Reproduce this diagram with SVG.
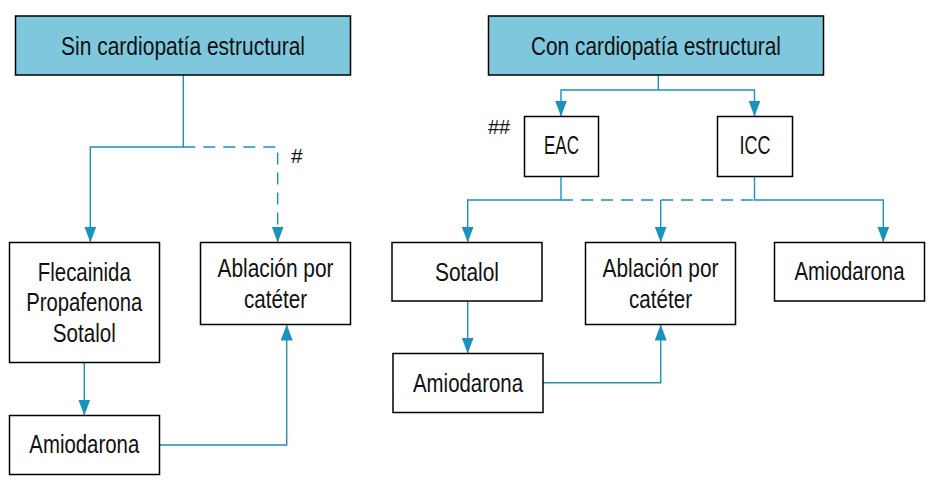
<svg xmlns="http://www.w3.org/2000/svg" width="943" height="501" viewBox="0 0 943 501">
<defs>
<style>
.box{fill:#ffffff;stroke:#000000;stroke-width:1.5}
.head{fill:#7fc7dd;stroke:#000000;stroke-width:1.5}
.t{font-family:"Liberation Sans",Arial,sans-serif;font-size:25px;fill:#111111;text-anchor:middle}
.m{font-family:"Liberation Sans",Arial,sans-serif;fill:#111111}
.c{fill:none;stroke:#1a93bb;stroke-width:1.4}
.d{stroke-dasharray:12 8}
</style>
<marker id="ah" viewBox="0 0 16 12" refX="16" refY="6" markerWidth="16" markerHeight="12" markerUnits="userSpaceOnUse" orient="auto">
<path d="M0 0 L16 6 L0 12 z" fill="#1a93bb"/>
</marker>
</defs>
<rect width="943" height="501" fill="#ffffff"/>
<g id="connectors">
<path class="c" d="M183.3 75 V147 H90.3 V242.5" marker-end="url(#ah)"/>
<path class="c d" d="M183.3 147 H277.7 V242.5" marker-end="url(#ah)"/>
<path class="c" d="M84.3 362.5 V415.5" marker-end="url(#ah)"/>
<path class="c" d="M159.5 445 H286.7 V324.5" marker-end="url(#ah)"/>
<path class="c" d="M658.3 75 V90"/>
<path class="c" d="M658.3 90 H561 V116.5" marker-end="url(#ah)"/>
<path class="c" d="M658.3 90 H754.5 V116.5" marker-end="url(#ah)"/>
<path class="c" d="M561 176.5 V200 H467.7 V242.5" marker-end="url(#ah)"/>
<path class="c" d="M754.5 176.5 V200 H883.3 V242.5" marker-end="url(#ah)"/>
<path class="c d" d="M561 200 H754.5"/>
<path class="c" d="M660.7 200 V242.5" marker-end="url(#ah)"/>
<path class="c" d="M467.7 301 V353.5" marker-end="url(#ah)"/>
<path class="c" d="M543 382.7 H660.7 V324.5" marker-end="url(#ah)"/>
</g>
<g id="sin">
<rect class="head" x="15.5" y="16" width="335" height="59"/>
<text class="t" x="183" y="55" textLength="244" lengthAdjust="spacingAndGlyphs">Sin cardiopatía estructural</text>
</g>
<g id="con">
<rect class="head" x="488.5" y="16" width="335" height="59"/>
<text class="t" x="656" y="55" textLength="250" lengthAdjust="spacingAndGlyphs">Con cardiopatía estructural</text>
</g>
<g id="hash1">
<text class="m" x="291" y="163" font-size="21">#</text>
</g>
<g id="hash2">
<text class="m" x="488" y="134" font-size="20">##</text>
</g>
<g id="eac">
<rect class="box" x="524.5" y="116.5" width="74" height="60"/>
<text class="t" x="561.5" y="154.3" textLength="35" lengthAdjust="spacingAndGlyphs">EAC</text>
</g>
<g id="icc">
<rect class="box" x="717.5" y="116.5" width="75" height="60"/>
<text class="t" x="755" y="154.3" textLength="31" lengthAdjust="spacingAndGlyphs">ICC</text>
</g>
<g id="flecainida">
<rect class="box" x="9.5" y="242.5" width="150" height="120"/>
<text class="t" x="84.3" y="280.7" textLength="93" lengthAdjust="spacingAndGlyphs">Flecainida</text>
<text class="t" x="84.3" y="311" textLength="116" lengthAdjust="spacingAndGlyphs">Propafenona</text>
<text class="t" x="84.3" y="341.7" textLength="63" lengthAdjust="spacingAndGlyphs">Sotalol</text>
</g>
<g id="ablacion1">
<rect class="box" x="200.5" y="242.5" width="150" height="82"/>
<text class="t" x="275.5" y="276.7" textLength="116" lengthAdjust="spacingAndGlyphs">Ablación por</text>
<text class="t" x="275.5" y="307.5" textLength="63" lengthAdjust="spacingAndGlyphs">catéter</text>
</g>
<g id="amiodarona1">
<rect class="box" x="9.5" y="415.5" width="150" height="59"/>
<text class="t" x="84.3" y="453.3" textLength="110" lengthAdjust="spacingAndGlyphs">Amiodarona</text>
</g>
<g id="sotalol">
<rect class="box" x="392" y="242.5" width="150" height="58.5"/>
<text class="t" x="467" y="280.7" textLength="64" lengthAdjust="spacingAndGlyphs">Sotalol</text>
</g>
<g id="ablacion2">
<rect class="box" x="585.5" y="242.5" width="150" height="82"/>
<text class="t" x="660.5" y="276.7" textLength="116" lengthAdjust="spacingAndGlyphs">Ablación por</text>
<text class="t" x="660.5" y="307.7" textLength="63" lengthAdjust="spacingAndGlyphs">catéter</text>
</g>
<g id="amiodarona2">
<rect class="box" x="774.5" y="242.5" width="150" height="58.5"/>
<text class="t" x="849.5" y="280" textLength="110" lengthAdjust="spacingAndGlyphs">Amiodarona</text>
</g>
<g id="amiodarona3">
<rect class="box" x="393" y="353.5" width="150" height="59"/>
<text class="t" x="468" y="391.7" textLength="110" lengthAdjust="spacingAndGlyphs">Amiodarona</text>
</g>
</svg>
